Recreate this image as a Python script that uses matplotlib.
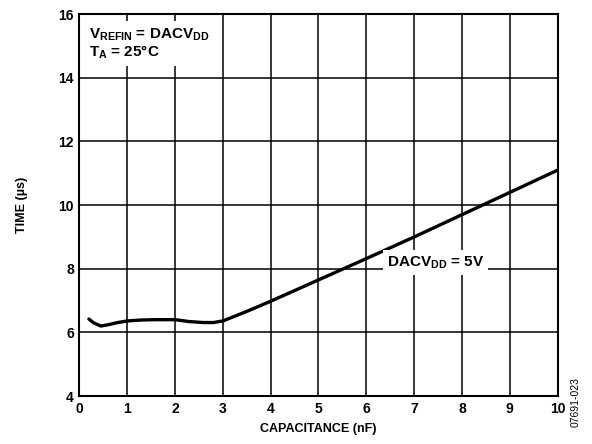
import matplotlib
matplotlib.use("Agg")
import matplotlib.pyplot as plt

plt.rcParams["font.family"] = ["Liberation Sans", "DejaVu Sans"]
plt.rcParams["font.weight"] = "bold"
plt.rcParams["mathtext.fontset"] = "custom"
plt.rcParams["mathtext.rm"] = "Liberation Sans:bold"
plt.rcParams["mathtext.bf"] = "Liberation Sans:bold"
plt.rcParams["mathtext.it"] = "Liberation Sans:bold"

# capacitance (nF) vs settling time (us)
cap_nf = [0.2, 0.3, 0.45, 0.6, 0.8, 1.0, 1.3, 1.6, 2.0, 2.3, 2.6, 2.8, 3.0,
          3.5, 4.0, 5.0, 6.0, 7.0, 8.0, 9.0, 10.0]
time_us = [6.42, 6.3, 6.2, 6.24, 6.31, 6.36, 6.39, 6.4, 6.4, 6.34, 6.31, 6.31, 6.36,
           6.66, 6.98, 7.65, 8.32, 9.0, 9.7, 10.4, 11.1]

x_ticks = list(range(0, 11))
y_ticks = [4, 6, 8, 10, 12, 14, 16]


def main():
    fig = plt.figure(figsize=(5.92, 4.44), dpi=100)
    ax = fig.add_axes([0.134, 0.108, 0.808, 0.86])

    ax.plot(cap_nf, time_us, color="black", linewidth=2.4, zorder=3, solid_capstyle="round")

    ax.set_xlim(0, 10)
    ax.set_ylim(4, 16)
    ax.set_xticks(x_ticks)
    ax.set_yticks(y_ticks)
    ax.tick_params(length=0, labelsize=10, pad=4)
    for lbl in ax.get_xticklabels() + ax.get_yticklabels():
        lbl.set_fontweight("bold")
    ax.grid(True, color="black", linewidth=1.1, zorder=1)
    for s in ax.spines.values():
        s.set_linewidth(1.5)

    ax.set_xlabel("CAPACITANCE (nF)", fontsize=9, fontweight="bold", labelpad=5)
    ax.set_ylabel("TIME (µs)", fontsize=9, fontweight="bold", labelpad=22)

    ax.text(0.2, 15.6, r"V$_{REFIN}$ = DACV$_{DD}$" + "\n" + r"T$_{A}$ = 25°C",
            fontsize=11, fontweight="bold", va="top", ha="left", linespacing=1.0, zorder=4,
            bbox=dict(facecolor="white", edgecolor="none", pad=4))

    ax.text(7.45, 8.2, r"DACV$_{DD}$ = 5V", fontsize=11, fontweight="bold",
            ha="center", va="center", zorder=4,
            bbox=dict(facecolor="white", edgecolor="none", pad=3))

    fig.text(0.972, 0.095, "07691-023", rotation=90, fontsize=7.5, fontweight="normal",
             ha="center", va="center")

    fig.savefig("out.png", dpi=100)


if __name__ == "__main__":
    main()
